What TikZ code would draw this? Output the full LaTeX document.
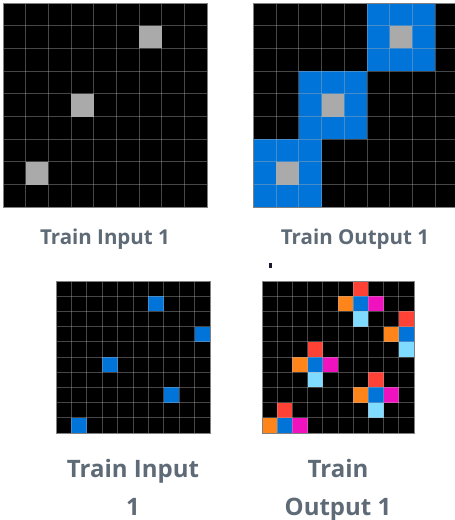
\documentclass[tikz,border=0pt]{standalone}
\usepackage{fontspec}
\setmainfont{Open Sans}
\definecolor{arcblack}{HTML}{000000}
\definecolor{arcgray}{HTML}{AAAAAA}
\definecolor{arcblue}{HTML}{0074D9}
\definecolor{arcred}{HTML}{FF4136}
\definecolor{arcorange}{HTML}{FF851B}
\definecolor{arcmagenta}{HTML}{F012BE}
\definecolor{arclightblue}{HTML}{7FDBFF}
\definecolor{gridline}{HTML}{B0B0B0}
\definecolor{gridborder}{HTML}{808080}
\definecolor{labelcol}{HTML}{5E6A76}
\definecolor{dotcol}{HTML}{1A1A2E}
\tikzset{
  gridlines/.style={draw=gridline, draw opacity=0.4, line width=1pt},
  gridframe/.style={draw=gridborder, line width=1pt},
  toplabel/.style={anchor=base, text=labelcol, font=\fontsize{20.5}{24}\selectfont\bfseries, inner sep=0pt},
  botlabel/.style={anchor=base, text=labelcol, font=\fontsize{24}{38}\selectfont\bfseries, align=center, inner sep=0pt},
}
% fill one cell: column, row, colour
\newcommand{\arccell}[3]{\fill[#3] (#1,#2) rectangle ++(1,1);}
\newcommand{\arcframe}[1]{%
  \foreach \k in {1,...,#1}{
    \draw[gridlines] (\k,0) -- (\k,#1);
    \draw[gridlines] (0,\k) -- (#1,\k);
  }
  \draw[gridframe] (0,0) rectangle (#1,#1);}
\begin{document}
\begin{tikzpicture}[x=1pt,y=-1pt]
\useasboundingbox (0,0) rectangle (455,520);
\clip (0,0) rectangle (455,520);

% ---------- Train Input 1 (top) ----------
\begin{scope}[xshift=3pt,yshift=-3pt,x=22.7pt,y=-22.7pt]
  \fill[arcblack] (0,0) rectangle (9,9);
  \arccell{6}{1}{arcgray}
  \arccell{3}{4}{arcgray}
  \arccell{1}{7}{arcgray}
  \arcframe{9}
\end{scope}

% ---------- Train Output 1 (top) ----------
\begin{scope}[xshift=253.5pt,yshift=-3pt,x=22.7pt,y=-22.7pt]
  \fill[arcblack] (0,0) rectangle (9,9);
  \fill[arcblue] (5,0) rectangle (8,3);
  \fill[arcblue] (2,3) rectangle (5,6);
  \fill[arcblue] (0,6) rectangle (3,9);
  \arccell{6}{1}{arcgray}
  \arccell{3}{4}{arcgray}
  \arccell{1}{7}{arcgray}
  \arcframe{9}
\end{scope}

% ---------- Train Input 1 (bottom) ----------
\begin{scope}[xshift=56pt,yshift=-281pt,x=15.4pt,y=-15.2pt]
  \fill[arcblack] (0,0) rectangle (10,10);
  \arccell{6}{1}{arcblue}
  \arccell{9}{3}{arcblue}
  \arccell{3}{5}{arcblue}
  \arccell{7}{7}{arcblue}
  \arccell{1}{9}{arcblue}
  \arcframe{10}
\end{scope}

% ---------- Train Output 1 (bottom) ----------
\begin{scope}[xshift=262pt,yshift=-281pt,x=15.2pt,y=-15.2pt]
  \fill[arcblack] (0,0) rectangle (10,10);
  \foreach \c/\r in {6/1, 9/3, 3/5, 7/7, 1/9}{
    \pgfmathtruncatemacro{\up}{\r-1}
    \pgfmathtruncatemacro{\dn}{\r+1}
    \pgfmathtruncatemacro{\lf}{\c-1}
    \pgfmathtruncatemacro{\rt}{\c+1}
    \arccell{\c}{\r}{arcblue}
    \arccell{\c}{\up}{arcred}
    \arccell{\lf}{\r}{arcorange}
    \ifnum\rt<10 \arccell{\rt}{\r}{arcmagenta}\fi
    \ifnum\dn<10 \arccell{\c}{\dn}{arclightblue}\fi
  }
  \arcframe{10}
\end{scope}

% ---------- labels ----------
\node[toplabel] (lin1) at (105,244) {Train Input 1};
\node[toplabel] (lout1) at (355,244) {Train Output 1};
\node[botlabel] (lin2) at (133,515) {Train Input\\1};
\node[botlabel] (lout2) at (338,515) {Train\\Output 1};

% small stray mark
\fill[dotcol] (269,263) rectangle (272,268);
\end{tikzpicture}
\end{document}
